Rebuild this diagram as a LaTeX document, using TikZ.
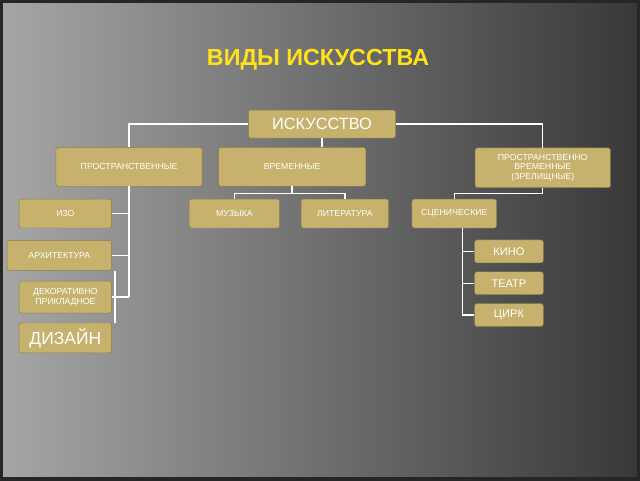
\documentclass[tikz,border=0pt]{standalone}
\usepackage{fontspec}
\setmainfont{Liberation Sans}
\usetikzlibrary{positioning}
\definecolor{gold}{HTML}{C6B26C}
\definecolor{titleyellow}{HTML}{FFE21A}

\begin{document}
\begin{tikzpicture}[x=0.03cm, y=-0.03cm,
        node box/.style = {rectangle, rounded corners=2pt, draw=gold!70!black, fill=gold, text=white, inner sep=1pt, align=center, font=\fontsize{7.5}{8.5}\selectfont},
        link/.style = {draw=white, line width=1.2pt},
        ]
        % Background
        \shade[left color=gray!70, right color=black!78] (0,0) rectangle (640,480);
        \draw[black!85, line width=3pt] (0,0) rectangle (640,480);
        \useasboundingbox (0,0) rectangle (640,480);

        \node[font=\bfseries\fontsize{20}{22}\selectfont, text=titleyellow] (title) at (318,58) {ВИДЫ ИСКУССТВА};

        % Top node
        \node[node box, minimum width=4.44cm, minimum height=0.84cm, font=\fontsize{14}{15}\selectfont] (art) at (322,123) {ИСКУССТВО};

        % Level 1 nodes
        \node[node box, minimum width=4.41cm, minimum height=1.17cm] (space) at (128,166) {ПРОСТРАНСТВЕННЫЕ};
        \node[node box, minimum width=4.44cm, minimum height=1.17cm] (time) at (292,166) {ВРЕМЕННЫЕ};
        \node[node box, minimum width=4.08cm, minimum height=1.2cm] (spacetime) at (544,167) {ПРОСТРАНСТВЕННО\\ВРЕМЕННЫЕ\\(ЗРЕЛИЩНЫЕ)};

        % Level 2 nodes
        \node[node box, minimum width=2.79cm, minimum height=0.87cm] (izo) at (64,213) {ИЗО};
        \node[node box, minimum width=3.15cm, minimum height=0.9cm] (arch) at (58,255) {АРХИТЕКТУРА};
        \node[node box, minimum width=2.79cm, minimum height=0.96cm] (decor) at (64,297) {ДЕКОРАТИВНО\\ПРИКЛАДНОЕ};
        \node[node box, minimum width=2.79cm, minimum height=0.9cm, font=\fontsize{15}{16}\selectfont] (design) at (64,338) {ДИЗАЙН};
        \node[node box, minimum width=2.73cm, minimum height=0.87cm] (music) at (234,213) {МУЗЫКА};
        \node[node box, minimum width=2.64cm, minimum height=0.87cm] (lit) at (345,213) {ЛИТЕРАТУРА};
        \node[node box, minimum width=2.55cm, minimum height=0.87cm] (stage) at (455,213) {СЦЕНИЧЕСКИЕ};

        % Level 3 nodes
        \node[node box, minimum width=2.07cm, minimum height=0.69cm, font=\fontsize{9.5}{10}\selectfont] (kino) at (510,251) {КИНО};
        \node[node box, minimum width=2.07cm, minimum height=0.69cm, font=\fontsize{9.5}{10}\selectfont] (teatr) at (510,283) {ТЕАТР};
        \node[node box, minimum width=2.07cm, minimum height=0.69cm, font=\fontsize{9.5}{10}\selectfont] (circus) at (510,315) {ЦИРК};

        % Edges from the top node
        \draw[link] (art.west) -| (space.north);
        \draw[link] (art.south) -- (art.south |- time.north);
        \draw[link] (art.east) -| (spacetime.north);

        % Left branch
        \coordinate (trunk) at (128,297);
        \coordinate (side) at (114,0);
        \draw[link] (space.south) -- (trunk);
        \draw[link] (izo.east) -- (izo.east -| trunk);
        \draw[link] (arch.east) -- (arch.east -| trunk);
        \draw[link] (decor.east) -- (decor.east -| trunk);
        \draw[link] (arch.south -| side) -- (design.north -| side);

        % Middle branch
        \coordinate (fork) at (292,193);
        \draw[link] (time.south) -- (fork);
        \draw[link] (fork) -| (music.north);
        \draw[link] (fork) -| (lit.north);

        % Right branch
        \coordinate (bend) at (544,193);
        \draw[link] (spacetime.south) -- (bend) -| (stage.north);
        \coordinate (stem) at (463,315);
        \draw[link] (stage.south -| stem) -- (stem);
        \draw[link] (kino.west) -- (kino.west -| stem);
        \draw[link] (teatr.west) -- (teatr.west -| stem);
        \draw[link] (circus.west) -- (circus.west -| stem);
    \end{tikzpicture}
\end{document}
